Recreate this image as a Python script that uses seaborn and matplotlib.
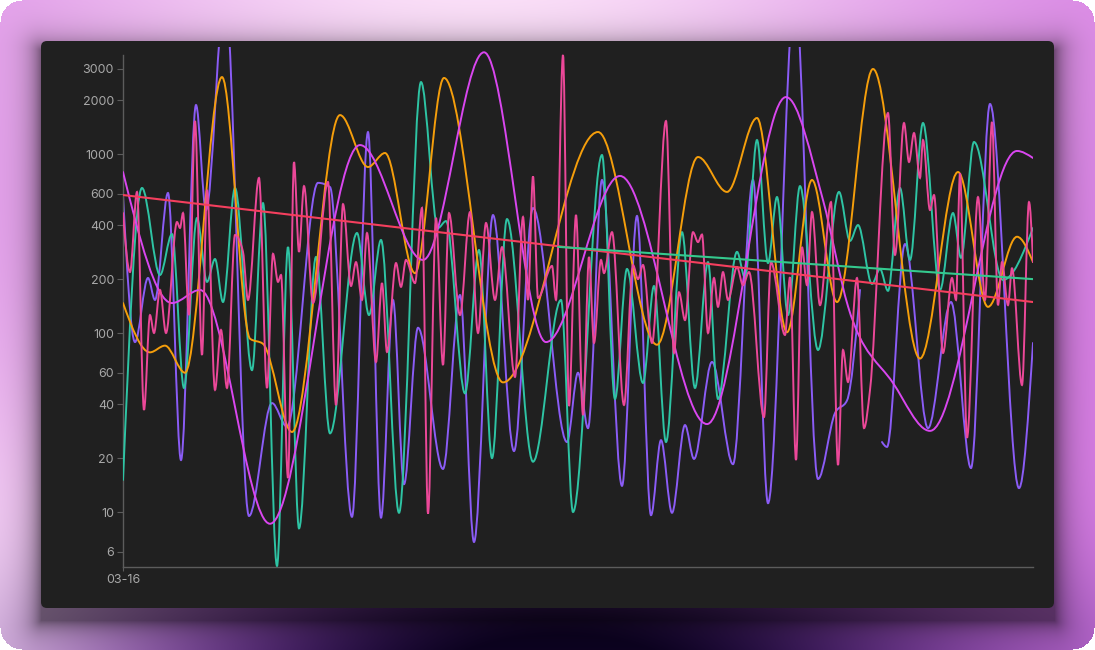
import numpy as np
import pandas as pd
import seaborn as sns
import matplotlib
matplotlib.use("Agg")
import matplotlib.pyplot as plt
from matplotlib.path import Path
from matplotlib.patches import PathPatch, FancyBboxPatch

# time steps counted from 03-16
orange_t = [0, 27, 42, 62, 99, 127, 140, 169, 217, 245, 262, 292, 321, 380, 475, 534, 575, 604,
            634, 664, 689, 714, 750, 797, 835, 865, 894, 910]
orange_v = [147, 78, 85, 60, 2690, 93, 87, 28, 1650, 846, 1013, 216, 2660, 53, 1327, 86, 962, 614,
            1589, 101, 716, 149, 2985, 72, 793, 140, 345, 249]

magenta_t = [0, 49, 77, 147, 237, 300, 361, 423, 497, 584, 663, 700, 725, 770, 807, 894, 910]
magenta_v = [793, 147, 174, 8.6, 1122, 256, 3700, 89, 754, 31, 2080, 553, 141, 52.6, 28.4, 1040, 950]

teal_t = [0, 19, 37, 49, 61, 74, 84, 92, 100, 112, 129, 140, 154, 165, 176, 193, 207, 234, 246, 258,
          276, 298, 315, 323, 342, 356, 369, 384, 410, 438, 450, 479, 492, 504, 520, 531, 543, 559,
          572, 585, 595, 614, 622, 634, 645, 654, 665, 677, 695, 716, 727, 735, 749, 757, 765, 777,
          787, 800, 817, 830, 838, 851, 880, 910]
teal_v = [15.1, 646, 211, 357, 49.3, 439, 193, 259, 149, 646, 62, 532, 5.0, 302, 8.1, 266, 27.5, 362,
          126, 331, 9.9, 2523, 386, 422, 46, 291, 20, 433, 19.1, 153, 10, 987, 42.8, 228, 52.6, 183,
          24.6, 366, 49.3, 249, 42.8, 284, 203, 1197, 246, 575, 126, 662, 80.4, 614, 327, 401, 188,
          228, 172, 646, 256, 1490, 174, 468, 263, 1167, 198, 386]

purple_t = [0, 12, 25, 32, 45, 58, 73, 83, 102, 126, 149, 164, 195, 207, 229, 245, 258, 270, 281, 295,
            320, 337, 351, 370, 391, 410, 444, 455, 465, 479, 499, 514, 528, 538, 549, 562, 571, 589,
            610, 630, 645, 672, 695, 712, 724, 737, 748, 759, 764, 782, 805, 828, 848, 867, 896, 910]
purple_v = [590, 89, 203, 153, 606, 19.5, 1878, 486, 8000, 9.5, 40.6, 30, 690, 654, 9.4, 1327, 9.3,
            153, 14.3, 107, 17.4, 163, 6.8, 456, 21.9, 499, 24.6, 60, 29.4, 716, 14, 451, 9.6, 25.2,
            9.9, 30.6, 19.8, 68.9, 18.5, 716, 11.2, 8000, 15.3, 35.7, 42, 174, np.nan, 24.6, 23.1,
            314, 29.4, 149, 17.6, 1903, 13.6, 88]

pink_t = [0, 7, 14, 21, 27, 31, 37, 43, 54, 57, 60, 66, 72, 79, 84, 92, 98, 104, 112, 120, 125, 136,
          144, 150, 155, 158, 165, 171, 176, 181, 190, 205, 213, 220, 228, 233, 239, 244, 253, 259,
          264, 273, 278, 283, 292, 299, 305, 313, 320, 326, 337, 347, 355, 363, 372, 379, 392, 400,
          405, 410, 415, 429, 433, 440, 446, 453, 460, 466, 471, 478, 481, 489, 501, 510, 515, 520,
          529, 543, 551, 556, 562, 570, 575, 579, 585, 591, 595, 600, 605, 614, 620, 626, 641, 648,
          662, 667, 673, 679, 684, 689, 697, 708, 715, 720, 725, 734, 741, 747, 765, 772, 781, 786,
          791, 797, 800, 807, 811, 820, 829, 833, 837, 844, 855, 862, 869, 875, 879, 885, 889, 899,
          906, 910]
pink_v = [468, 219, 614, 37.2, 126, 100, 174, 100, 417, 386, 468, 126, 1529, 75.4, 630, 48.1, 104,
          49.3, 353, 284, 153, 735, 49.3, 277, 193, 211, 15.5, 902, 284, 662, 147, 698, 39.6, 525,
          183, 249, 153, 362, 68.9, 190, 78.3, 246, 181, 256, 190, 500, 9.8, 439, 66.3, 468, 126,
          474, 100, 412, 153, 302, 56.8, 445, 153, 750, 157, 237, 153, 3575, 39.1, 456, 34.8, 266,
          88, 256, 216, 366, 39.6, 240, 200, 240, 88, 1529, 77.3, 169, 118, 366, 322, 355, 100, 203,
          140, 219, 153, 234, 185, 219, 33.9, 249, 97.5, 205, 19.5, 302, 185, 474, 143, 539, 18.3,
          80.4, 53.2, 203, 29.4, 48, 1695, 273, 1490, 902, 1310, 735, 1197, 486, 590, 77.3, 203,
          153, 780, 26, 575, 153, 1509, 143, 249, 143, 230, 51.2, 539, 249]

# trend lines (start / end)
trend_pink_t = [0, 910]
trend_pink_v = [590, 149]
trend_teal_t = [435, 910]
trend_teal_v = [303, 200]

y_ticks = [6, 10, 20, 40, 60, 100, 200, 400, 600, 1000, 2000, 3000]
x_label = "03-16"

W, H = 1095, 650


def monotone_path(t, v):
    # monotone cubic curve (like curveMonotoneX) built from bezier segments in log space
    x = np.asarray(t, float)
    y = np.log10(np.asarray(v, float))
    h = np.diff(x)
    s = np.diff(y) / h
    m = np.zeros_like(y)
    for i in range(1, len(x) - 1):
        p = (s[i - 1] * h[i] + s[i] * h[i - 1]) / (h[i - 1] + h[i])
        m[i] = (np.sign(s[i - 1]) + np.sign(s[i])) * min(abs(s[i - 1]), abs(s[i]), 0.5 * abs(p))
    m[0] = (3 * s[0] - m[1]) / 2
    m[-1] = (3 * s[-1] - m[-2]) / 2
    verts = [(x[0], y[0])]
    codes = [Path.MOVETO]
    for i in range(len(x) - 1):
        verts += [(x[i] + h[i] / 3, y[i] + m[i] * h[i] / 3),
                  (x[i + 1] - h[i] / 3, y[i + 1] - m[i + 1] * h[i] / 3),
                  (x[i + 1], y[i + 1])]
        codes += [Path.CURVE4] * 3
    verts = np.array(verts)
    verts[:, 1] = 10 ** verts[:, 1]
    return Path(verts, codes)


def draw_series(ax, t, v, color, z):
    t = np.asarray(t, float)
    v = np.asarray(v, float)
    breaks = np.where(np.isnan(v))[0]
    start = 0
    for b in list(breaks) + [len(v)]:
        if b - start >= 3:
            ax.add_patch(PathPatch(monotone_path(t[start:b], v[start:b]), fill=False,
                                   edgecolor=color, lw=1.4, zorder=z, capstyle="round"))
        start = b + 1


sns.set_theme(style="dark", rc={"axes.facecolor": "none", "figure.facecolor": "white"})
plt.rcParams["font.family"] = ["Inter", "DejaVu Sans"]

fig = plt.figure(figsize=(W / 100, H / 100), dpi=100)

# background gradient with panel shadow and rounded outer corners
yy, xx = np.mgrid[0:H, 0:W].astype(float)
purple_bg = np.array([0.84, 0.49, 0.89])
light_bg = np.array([0.99, 0.88, 0.98])
violet_bg = np.array([0.38, 0.16, 0.58])
dark_bg = np.array([0.05, 0.01, 0.13])
w1 = np.exp(-(((xx - 480) / 460) ** 2 + (yy / 250) ** 2))
w2 = np.exp(-(((xx + 40) / 240) ** 2 + ((yy - 680) / 380) ** 2))
wl = np.clip(w1 + w2, 0, 1)[..., None]
img = purple_bg * (1 - wl) + light_bg * wl
w4 = np.clip(1.1 * np.exp(-(((xx - 560) / 470) ** 2 + ((yy - 680) / 120) ** 2)), 0, 1)[..., None]
img = img * (1 - w4) + violet_bg * w4
w3 = np.clip(1.15 * np.exp(-(((xx - 560) / 300) ** 2 + ((yy - 672) / 100) ** 2)), 0, 1)[..., None]
img = img * (1 - w3) + dark_bg * w3
dx = np.maximum(np.maximum(41 - xx, xx - 1054), 0)
dy = np.maximum(np.maximum(50 - yy, yy - 620), 0)
sh = 0.5 * np.exp(-np.hypot(dx, dy) / 13)[..., None]
img = img * (1 - sh)
r = 22
cx = np.clip(xx, r, W - 1 - r)
cy = np.clip(yy, r, H - 1 - r)
img[np.hypot(xx - cx, yy - cy) > r] = 1.0

bg = fig.add_axes([0, 0, 1, 1], zorder=-10)
bg.imshow(img, extent=[0, W, H, 0], aspect="auto", interpolation="bilinear")
bg.set_xlim(0, W)
bg.set_ylim(H, 0)
bg.axis("off")
bg.add_patch(FancyBboxPatch((47, 47), 1001, 555, boxstyle="round,pad=6,rounding_size=6",
                            facecolor="#202020", edgecolor="none"))

ax = fig.add_axes([123 / W, 83 / H, 910 / W, 520 / H])
ax.set_yscale("log")

draw_series(ax, purple_t, purple_v, "#8b5cf6", 2)
draw_series(ax, teal_t, teal_v, "#2ec4a4", 3)
draw_series(ax, orange_t, orange_v, "#f59e0b", 4)
draw_series(ax, magenta_t, magenta_v, "#d946ef", 5)
draw_series(ax, pink_t, pink_v, "#ec4899", 6)

trend = pd.concat([
    pd.DataFrame({"t": trend_pink_t, "v": trend_pink_v, "s": "pink"}),
    pd.DataFrame({"t": trend_teal_t, "v": trend_teal_v, "s": "teal"}),
])
sns.lineplot(data=trend, x="t", y="v", hue="s", palette={"pink": "#f43f5e", "teal": "#34c98e"},
             lw=1.5, legend=False, ax=ax, zorder=7)

ax.set_xlim(0, 910)
ax.set_ylim(4.93, 3961)
ax.set_yticks(y_ticks)
ax.set_yticklabels([str(v) for v in y_ticks])
ax.yaxis.set_minor_locator(matplotlib.ticker.NullLocator())
ax.set_xticks([0])
ax.set_xticklabels([x_label])
ax.set_xlabel("")
ax.set_ylabel("")
ax.grid(False)
for side in ["top", "right"]:
    ax.spines[side].set_visible(False)
for side in ["left", "bottom"]:
    ax.spines[side].set_visible(True)
    ax.spines[side].set_color("#5c5c5c")
    ax.spines[side].set_linewidth(1.0)
ax.spines["left"].set_bounds(4.93, 3575)
ax.tick_params(axis="y", which="major", left=True, length=4.5, width=0.8, color="#5c5c5c",
               labelcolor="#a8a8a8", labelsize=9, pad=2)
ax.tick_params(axis="x", which="major", bottom=True, length=3, width=0.8, color="#5c5c5c",
               labelcolor="#a8a8a8", labelsize=9, pad=2)

fig.savefig("out.png", dpi=100)
